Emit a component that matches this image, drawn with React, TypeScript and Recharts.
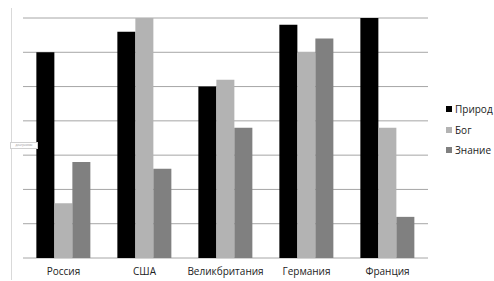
import React from 'react';
import { BarChart, Bar, XAxis, YAxis, CartesianGrid } from 'recharts';

const countries = ['Россия', 'США', 'Великбритания', 'Германия', 'Франция'];
const priroda = [6.0, 6.6, 5.0, 6.8, 7.0];
const bog = [1.6, 7.0, 5.2, 6.0, 3.8];
const znanie = [2.8, 2.6, 3.8, 6.4, 1.2];
const yTicks = [0, 1, 2, 3, 4, 5, 6, 7];

const series = [
  { key: 'priroda', name: 'Природ', color: '#000000' },
  { key: 'bog', name: 'Бог', color: '#b3b3b3' },
  { key: 'znanie', name: 'Знание', color: '#808080' },
];

const data = countries.map((c, i) => ({
  country: c,
  priroda: priroda[i],
  bog: bog[i],
  znanie: znanie[i],
}));

const font = '"Open Sans", "Noto Sans", sans-serif';

export default function App() {
  return (
    <div style={{ position: 'absolute', left: 0, top: 0, width: 494, height: 281, background: '#fff', overflow: 'hidden' }}>
      {/* faint frame edge on the left */}
      <div style={{ position: 'absolute', left: 11, top: 8, width: 1, height: 272, background: '#d9d9d9' }} />
      <div
        style={{
          position: 'absolute', left: 10, top: 142, width: 26, height: 5,
          border: '1px solid #d0d0d0', background: '#fff', fontSize: 3, lineHeight: '5px',
          color: '#999', fontFamily: font, overflow: 'hidden', textAlign: 'center', zIndex: 2,
        }}
      >
        диаграммы
      </div>
      <div style={{ position: 'absolute', left: 446, top: 99, fontFamily: font, fontSize: 10, color: '#222', whiteSpace: 'nowrap' }}>
        {series.map(s => (
          <div key={s.key} style={{ display: 'flex', alignItems: 'center', height: 20.5 }}>
            <span style={{ width: 6, height: 6, background: s.color, marginRight: 3, display: 'inline-block' }} />
            <span>{s.name}</span>
          </div>
        ))}
      </div>
      <BarChart
        width={494}
        height={281}
        data={data}
        margin={{ top: 18, right: 66, left: 23, bottom: 0 }}
        barGap={0}
        barCategoryGap="16.5%"
      >
        <CartesianGrid vertical={false} stroke="#a6a6a6" strokeWidth={1} />
        <XAxis
          dataKey="country"
          height={23}
          axisLine={false}
          tickLine={false}
          tickMargin={4}
          tick={{ fill: '#222', fontSize: 10, fontFamily: font }}
          interval={0}
        />
        <YAxis width={0} domain={[0, 7]} ticks={yTicks} tick={() => <g />} axisLine={false} tickLine={false} />
        {series.map(s => (
          <Bar key={s.key} dataKey={s.key} name={s.name} fill={s.color} isAnimationActive={false} />
        ))}
      </BarChart>
    </div>
  );
}
